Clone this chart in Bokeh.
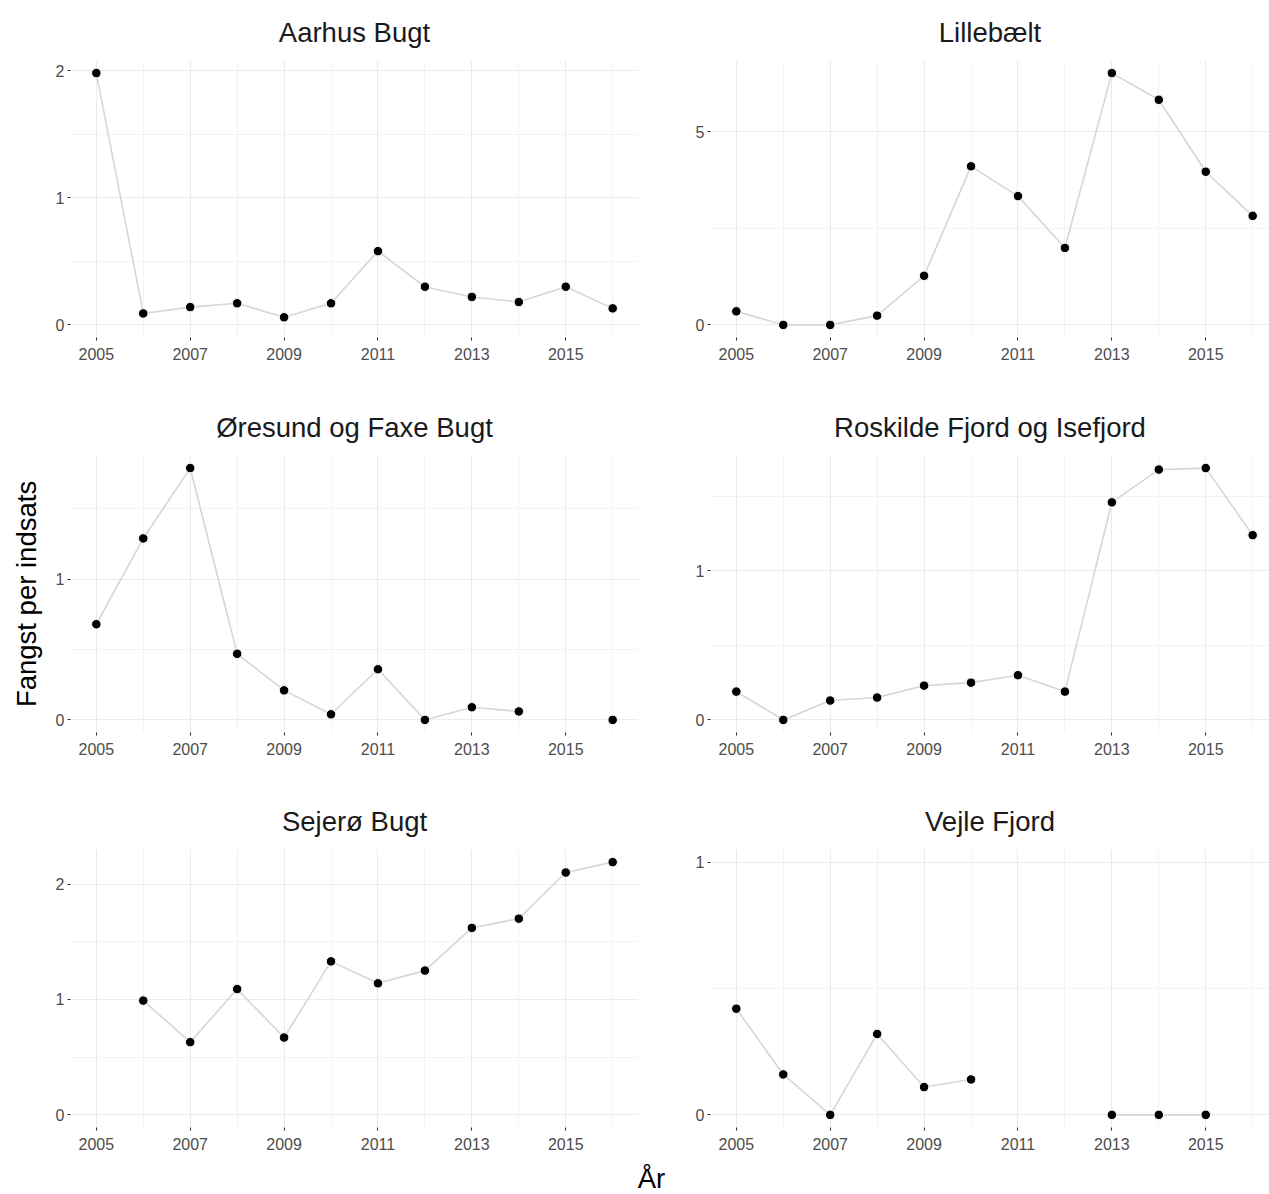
import numpy as np
from bokeh.plotting import figure
from bokeh.models import Range1d, FixedTicker, Label
from bokeh.layouts import column, row
from bokeh.embed import file_html
from bokeh.resources import INLINE

nan = float("nan")

# ---------------- data ----------------
years = [2005, 2006, 2007, 2008, 2009, 2010, 2011, 2012, 2013, 2014, 2015, 2016]

aarhus_bugt = [1.98, 0.09, 0.14, 0.17, 0.06, 0.17, 0.58, 0.30, 0.22, 0.18, 0.30, 0.13]
lillebaelt = [0.35, 0.0, 0.0, 0.24, 1.27, 4.10, 3.33, 1.99, 6.51, 5.82, 3.96, 2.82]
oresund_faxe = [0.68, 1.29, 1.79, 0.47, 0.21, 0.04, 0.36, 0.0, 0.09, 0.06, nan, 0.0]
roskilde_isefjord = [0.19, 0.0, 0.13, 0.15, 0.23, 0.25, 0.30, 0.19, 1.46, 1.68, 1.69, 1.24]
sejero_bugt = [nan, 0.99, 0.63, 1.09, 0.67, 1.33, 1.14, 1.25, 1.62, 1.70, 2.10, 2.19]
vejle_fjord = [0.42, 0.16, 0.0, 0.32, 0.11, 0.14, nan, nan, 0.0, 0.0, 0.0, nan]

panel_titles = ["Aarhus Bugt", "Lillebælt", "Øresund og Faxe Bugt",
                "Roskilde Fjord og Isefjord", "Sejerø Bugt", "Vejle Fjord"]

x_major_ticks = [2005, 2007, 2009, 2011, 2013, 2015]
x_minor_ticks = [2006, 2008, 2010, 2012, 2014, 2016]

aarhus_yticks = [0, 1, 2]
aarhus_yminor = [0.5, 1.5]
lillebaelt_yticks = [0, 5]
lillebaelt_yminor = [2.5]
oresund_yticks = [0, 1]
oresund_yminor = [0.5, 1.5]
roskilde_yticks = [0, 1]
roskilde_yminor = [0.5, 1.5]
sejero_yticks = [0, 1, 2]
sejero_yminor = [0.5, 1.5]
vejle_yticks = [0, 1]
vejle_yminor = [0.5]

y_label = "Fangst per indsats"
x_label = "År"

# ---------------- style / layout ----------------
FONT = "Liberation Sans"
GRID = "#EBEBEB"
LINE = "#D6D6D6"
TICK_TXT = "#4D4D4D"
TITLE_SIZE = "27.5px"

LEFT_BORDER_L, LEFT_FRAME_W, LEFT_BORDER_R = 70, 568, 16
RIGHT_BORDER_L, RIGHT_FRAME_W = 56, 559
LEFT_W = LEFT_BORDER_L + LEFT_FRAME_W + LEFT_BORDER_R
RIGHT_W = RIGHT_BORDER_L + RIGHT_FRAME_W
ROWS = [(60, 277, 58), (60, 277, 58), (59, 278, 31)]
XLAB_H = 36

x_lo = 2004.45
x_hi_left = 2016.55
px_per_year = LEFT_FRAME_W / (x_hi_left - x_lo)
x_hi_right = x_lo + RIGHT_FRAME_W / px_per_year


def make_panel(title, vals, yticks, yminor, col, r, ylabel=None):
    top, fh, bottom = ROWS[r]
    w = LEFT_W if col == 0 else RIGHT_W
    hi = max(1.0, float(np.nanmax(vals)))
    y0, y1 = -0.05 * hi, 1.05 * hi
    x_hi = x_hi_left if col == 0 else x_hi_right
    p = figure(width=w, height=top + fh + bottom,
               x_range=Range1d(x_lo, x_hi), y_range=Range1d(y0, y1),
               output_backend="svg", toolbar_location=None,
               min_border_left=LEFT_BORDER_L if col == 0 else RIGHT_BORDER_L,
               min_border_right=LEFT_BORDER_R if col == 0 else 0,
               min_border_top=top, min_border_bottom=bottom,
               title=title)
    p.outline_line_color = None
    p.background_fill_color = "white"
    p.border_fill_color = "white"

    p.title.align = "center"
    p.title.text_font = FONT
    p.title.text_font_size = TITLE_SIZE
    p.title.text_font_style = "normal"
    p.title.text_color = "#1A1A1A"
    p.title.standoff = 26

    p.xaxis.ticker = FixedTicker(ticks=x_major_ticks, minor_ticks=x_minor_ticks)
    p.yaxis.ticker = FixedTicker(ticks=yticks, minor_ticks=yminor)
    for ax in (p.xaxis[0], p.yaxis[0]):
        ax.axis_line_color = None
        ax.major_tick_line_color = "#333333"
        ax.major_tick_line_width = 1.1
        ax.major_tick_in = 0
        ax.major_tick_out = 3
        ax.minor_tick_line_color = None
        ax.major_label_text_font = FONT
        ax.major_label_text_font_size = "16px"
        ax.major_label_text_color = TICK_TXT
    p.xaxis.major_label_standoff = 6
    p.yaxis.major_label_standoff = 2
    if ylabel:
        p.yaxis.axis_label = ylabel
        p.yaxis.axis_label_text_font = FONT
        p.yaxis.axis_label_text_font_size = TITLE_SIZE
        p.yaxis.axis_label_text_font_style = "normal"
        p.yaxis.axis_label_text_color = "black"
        p.yaxis.axis_label_standoff = 11

    for g in (p.xgrid[0], p.ygrid[0]):
        g.grid_line_color = GRID
        g.grid_line_width = 1.1
        g.minor_grid_line_color = GRID
        g.minor_grid_line_width = 0.6

    p.line(years, vals, line_color=LINE, line_width=1.6)
    p.scatter(years, vals, size=9.5, fill_color="black",
              line_color="white", line_width=1)
    return p


series = [aarhus_bugt, lillebaelt, oresund_faxe, roskilde_isefjord, sejero_bugt, vejle_fjord]
yticks_all = [aarhus_yticks, lillebaelt_yticks, oresund_yticks, roskilde_yticks, sejero_yticks, vejle_yticks]
yminor_all = [aarhus_yminor, lillebaelt_yminor, oresund_yminor, roskilde_yminor, sejero_yminor, vejle_yminor]

panels = []
for i in range(6):
    r, c = divmod(i, 2)
    panels.append(make_panel(panel_titles[i], series[i], yticks_all[i], yminor_all[i], c, r,
                             ylabel=y_label if i == 2 else None))

# shared x-axis title (its own strip, no title panel so the frame fills it)
total_w = LEFT_W + RIGHT_W
xf = figure(width=total_w, height=XLAB_H, x_range=Range1d(0, total_w),
            y_range=Range1d(0, XLAB_H), output_backend="svg", title=None,
            toolbar_location=None, x_axis_location=None, y_axis_location=None,
            min_border=0, min_border_top=0, min_border_bottom=0,
            min_border_left=0, min_border_right=0)
xf.outline_line_color = None
xf.grid.visible = False
xf.add_layout(Label(x=651, y=16, text=x_label, text_align="center",
                    text_baseline="middle", text_font=FONT,
                    text_font_size=TITLE_SIZE, text_color="black"))

layout = column(row(panels[0], panels[1]),
                row(panels[2], panels[3]),
                row(panels[4], panels[5]),
                xf)

open("out.html", "w").write(file_html(layout, INLINE))
